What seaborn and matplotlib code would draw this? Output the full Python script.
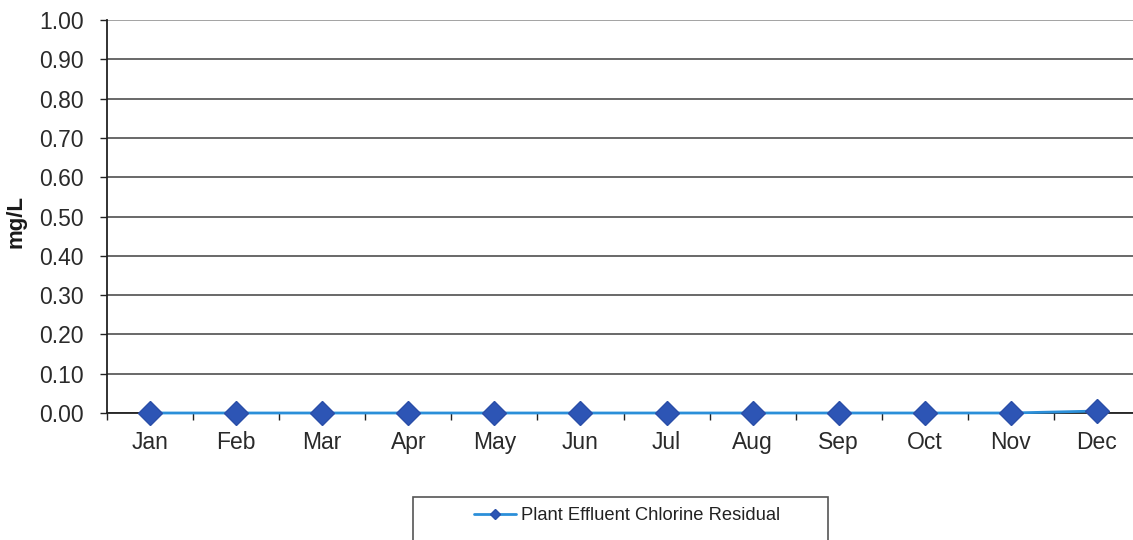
import matplotlib
matplotlib.use("Agg")
import matplotlib.pyplot as plt
from matplotlib.patches import Rectangle
from matplotlib.ticker import FixedLocator
import seaborn as sns
import pandas as pd

months = ["Jan", "Feb", "Mar", "Apr", "May", "Jun",
          "Jul", "Aug", "Sep", "Oct", "Nov", "Dec"]
chlorine_residual = [0.0, 0.0, 0.0, 0.0, 0.0, 0.0,
                     0.0, 0.0, 0.0, 0.0, 0.0, 0.005]
series_name = "Plant Effluent Chlorine Residual"
y_ticks = [0.0, 0.1, 0.2, 0.3, 0.4, 0.5, 0.6, 0.7, 0.8, 0.9, 1.0]

sns.set_theme(style="white")
plt.rcParams["font.family"] = ["Liberation Sans", "DejaVu Sans"]

df = pd.DataFrame({"month": months, "value": chlorine_residual})
df["pos"] = range(len(months))

fig = plt.figure(figsize=(11.33, 5.4), dpi=100)
ax = fig.add_axes([107 / 1133, 1 - 413 / 540, (1140 - 107) / 1133, (413 - 20) / 540])

sns.lineplot(data=df, x="pos", y="value", ax=ax, color="#2b8fd9", linewidth=2,
             marker="D", markersize=12, markerfacecolor="#2d55b5",
             markeredgecolor="#2a4ea8", markeredgewidth=1, label=series_name,
             legend=False)
for ln in ax.get_lines():
    ln.set_clip_on(False)
    ln.set_zorder(5)

ax.set_xlim(-0.5, len(months) - 0.5)
ax.set_ylim(0, 1.0)
ax.set_yticks(y_ticks)
ax.set_yticklabels([f"{v:.2f}" for v in y_ticks])
ax.set_xticks(range(len(months)))
ax.set_xticklabels(months)
ax.xaxis.set_minor_locator(FixedLocator([i + 0.5 for i in range(-1, len(months))]))

ax.grid(axis="y", color="#404040", linewidth=1.1)
ax.grid(axis="x", visible=False)
ax.set_axisbelow(True)
ax.get_ygridlines()[-1].set_color("#8a8a8a")

for side in ["top", "right"]:
    ax.spines[side].set_visible(False)
ax.spines["left"].set_color("#222222")
ax.spines["bottom"].set_color("#222222")
ax.spines["left"].set_linewidth(1.3)
ax.spines["bottom"].set_linewidth(1.3)

ax.tick_params(axis="y", which="major", direction="out", length=5, width=1,
               color="#222222", labelsize=16.5, pad=12, left=True)
ax.tick_params(axis="x", which="major", length=0, labelsize=16.5, pad=13, bottom=False)
ax.tick_params(axis="x", which="minor", direction="out", length=5, width=1,
               color="#222222", bottom=True)
for lab in ax.get_xticklabels() + ax.get_yticklabels():
    lab.set_color("#2a2a2a")

ax.set_xlabel("")
ax.set_ylabel("mg/L", fontsize=16, fontweight="bold", color="#1a1a1a")
ax.yaxis.set_label_coords((27 - 107) / 1033, (413 - 222) / 393)

# legend with a wide framed box below the plot
fig.add_artist(Rectangle((413 / 1133, -0.05), (828 - 413) / 1133, 0.05 + (1 - 497 / 540),
                         transform=fig.transFigure, facecolor="white",
                         edgecolor="#555555", linewidth=1.2))
handles, labels = ax.get_lines()[:1], [series_name]
leg = fig.legend(handles, labels, loc="center", bbox_to_anchor=(627 / 1133, 1 - 516 / 540),
                 frameon=False, fontsize=13.2, handlelength=2.3, handletextpad=0.3,
                 markerscale=0.45)
for t in leg.get_texts():
    t.set_color("#222222")

fig.savefig("out.png", dpi=100)
